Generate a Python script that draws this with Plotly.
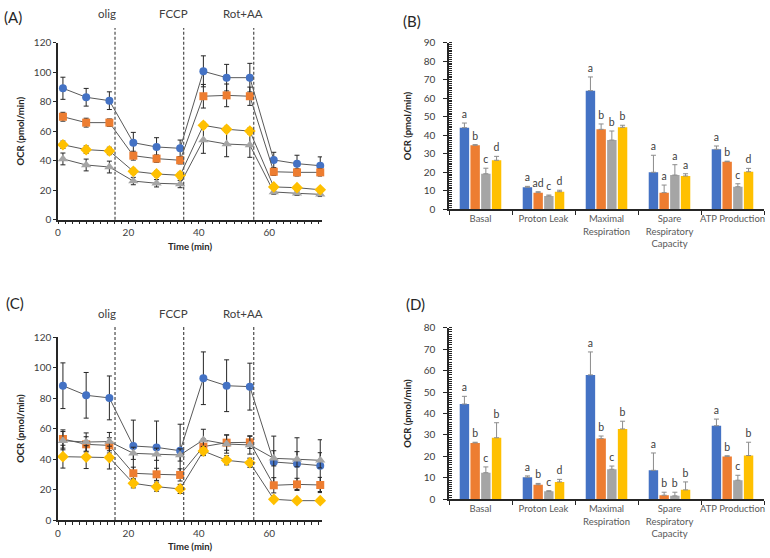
import plotly.graph_objects as go

# ---------------- data ----------------
time_min = [1.4, 8.0, 14.6, 21.4, 28.0, 34.7, 41.3, 47.9, 54.5, 61.3, 67.9, 74.5]
injections = ["olig", "FCCP", "Rot+AA"]
injection_times = [16.2, 35.7, 55.6]
label_times = [13.8, 32.7, 52.6]

series_names = ["S1", "S2", "S3", "S4"]
series_colors = ["#4472C4", "#ED7D31", "#A5A5A5", "#FFC000"]
series_symbols = ["circle", "square", "triangle-up", "diamond"]
series_msize = [8, 8, 9, 9]

# Panel A (OCR time course)
a_blue = [89.1, 83.0, 80.7, 52.2, 49.3, 48.4, 100.6, 96.3, 96.3, 40.5, 38.0, 36.6]
a_orange = [69.8, 65.8, 65.8, 43.4, 41.4, 40.3, 83.7, 84.3, 83.7, 32.5, 32.1, 32.1]
a_gray = [41.2, 37.1, 35.7, 26.2, 24.7, 24.2, 54.0, 51.3, 50.6, 18.8, 17.9, 17.2]
a_yellow = [50.8, 47.5, 46.6, 32.8, 31.0, 30.1, 64.0, 61.3, 60.1, 22.2, 21.7, 20.3]
a_blue_err = [7.5, 6.0, 6.0, 7.0, 6.3, 5.6, 10.5, 9.0, 9.7, 5.2, 5.7, 6.0]
a_orange_err = [3.0, 3.0, 2.5, 3.0, 2.5, 2.5, 8.0, 7.7, 6.2, 2.5, 2.5, 2.5]
a_gray_err = [4.0, 4.0, 4.0, 2.5, 2.5, 2.5, 9.0, 8.6, 8.3, 1.5, 1.5, 1.5]
a_yellow_err = [2.5, 2.5, 2.5, 2.0, 2.0, 2.0, 2.0, 2.0, 2.0, 1.5, 1.5, 1.5]

# Panel C (OCR time course)
c_blue = [88.2, 81.9, 80.2, 48.6, 47.7, 45.5, 93.1, 88.2, 87.6, 38.1, 37.0, 35.7]
c_orange = [53.2, 49.7, 49.0, 30.7, 30.0, 29.6, 48.2, 50.8, 51.0, 22.8, 23.4, 23.0]
c_gray = [52.1, 51.2, 51.5, 43.8, 43.2, 42.7, 52.6, 49.9, 49.3, 40.5, 39.9, 39.2]
c_yellow = [41.6, 41.3, 41.0, 24.1, 21.9, 20.4, 45.3, 39.2, 37.6, 13.6, 12.7, 12.7]
c_blue_err = [15.0, 15.0, 14.4, 17.0, 17.3, 17.4, 17.3, 17.0, 15.4, 17.0, 17.0, 17.0]
c_orange_err = [6.0, 5.0, 5.0, 4.0, 4.0, 4.0, 5.0, 5.0, 4.0, 5.0, 4.0, 5.0]
c_gray_err = [6.0, 6.0, 6.0, 4.0, 4.0, 4.0, 7.0, 6.0, 6.0, 5.0, 5.0, 5.0]
c_yellow_err = [7.5, 7.5, 7.5, 3.0, 3.0, 3.0, 3.0, 3.0, 3.0, 1.0, 1.0, 1.0]

# Bar panels
categories = ["Basal", "Proton Leak", "Maximal<br>Respiration",
              "Spare<br>Respiratory<br>Capacity", "ATP Production"]

b_blue = [44.1, 11.9, 64.1, 20.0, 32.4]
b_orange = [34.6, 9.0, 43.2, 9.0, 25.7]
b_gray = [19.2, 7.2, 37.4, 18.5, 12.2]
b_yellow = [26.5, 9.5, 44.3, 18.0, 20.3]
b_blue_err = [2.5, 0.5, 7.4, 9.2, 1.8]
b_orange_err = [0.3, 0.5, 2.9, 4.1, 0.3]
b_gray_err = [3.0, 0.5, 4.9, 5.6, 1.6]
b_yellow_err = [2.1, 0.8, 1.1, 1.2, 1.8]
b_blue_lbl = ["a", "a", "a", "a", "a"]
b_orange_lbl = ["b", "ad", "b", "a", "b"]
b_gray_lbl = ["c", "c", "b", "a", "c"]
b_yellow_lbl = ["d", "d", "b", "a", "d"]

d_blue = [44.4, 10.3, 58.0, 13.5, 34.3]
d_orange = [26.3, 6.8, 28.3, 1.9, 20.0]
d_gray = [12.4, 3.7, 14.0, 1.6, 8.9]
d_yellow = [28.7, 8.1, 32.8, 4.4, 20.4]
d_blue_err = [3.6, 0.6, 10.7, 8.1, 3.1]
d_orange_err = [0.3, 0.6, 1.2, 1.4, 0.3]
d_gray_err = [2.7, 0.3, 1.5, 1.7, 2.3]
d_yellow_err = [7.0, 1.2, 3.6, 3.7, 6.2]
d_blue_lbl = ["a", "a", "a", "a", "a"]
d_orange_lbl = ["b", "b", "b", "b", "b"]
d_gray_lbl = ["c", "c", "c", "b", "c"]
d_yellow_lbl = ["b", "d", "b", "b", "b"]

# ---------------- figure ----------------
FONT = "Lato"
TXT = "#404040"
fig = go.Figure()


def add_lines(vals_list, errs_list, xa, ya):
    for i, (vals, errs) in enumerate(zip(vals_list, errs_list)):
        fig.add_trace(go.Scatter(
            x=time_min, y=vals, xaxis=xa, yaxis=ya, mode="lines+markers",
            name=series_names[i], showlegend=False,
            line=dict(color="#595959", width=1),
            marker=dict(symbol=series_symbols[i], color=series_colors[i],
                        size=series_msize[i], line=dict(width=0)),
            error_y=dict(type="data", array=errs, color="#262626", thickness=1, width=2.5),
            cliponaxis=False,
        ))


def add_bars(vals_list, errs_list, lbls_list, xa, ya):
    for i, (vals, errs, lbls) in enumerate(zip(vals_list, errs_list, lbls_list)):
        fig.add_trace(go.Bar(
            x=categories, y=vals, xaxis=xa, yaxis=ya, name=series_names[i],
            showlegend=False, offsetgroup=str(i),
            marker=dict(color=series_colors[i], line=dict(width=0)),
            error_y=dict(type="data", symmetric=False, array=errs,
                         arrayminus=[0] * len(errs), color="#8c8c8c",
                         thickness=1, width=2.5),
        ))
        fig.add_trace(go.Bar(
            x=categories, y=errs, base=vals, xaxis=xa, yaxis=ya,
            showlegend=False, offsetgroup=str(i), hoverinfo="skip",
            marker=dict(color="rgba(0,0,0,0)", line=dict(width=0)),
            text=lbls, textposition="outside", constraintext="none",
            textfont=dict(family=FONT, size=10.5, color=TXT),
            cliponaxis=False,
        ))


add_lines([a_blue, a_orange, a_gray, a_yellow],
          [a_blue_err, a_orange_err, a_gray_err, a_yellow_err], "x", "y")
add_bars([b_blue, b_orange, b_gray, b_yellow],
         [b_blue_err, b_orange_err, b_gray_err, b_yellow_err],
         [b_blue_lbl, b_orange_lbl, b_gray_lbl, b_yellow_lbl], "x2", "y2")
add_lines([c_blue, c_orange, c_gray, c_yellow],
          [c_blue_err, c_orange_err, c_gray_err, c_yellow_err], "x3", "y3")
add_bars([d_blue, d_orange, d_gray, d_yellow],
         [d_blue_err, d_orange_err, d_gray_err, d_yellow_err],
         [d_blue_lbl, d_orange_lbl, d_gray_lbl, d_yellow_lbl], "x4", "y4")

W, H = 770, 558


def px_x(p):
    return p / W


def px_y(p):
    return 1 - p / H


tickfont = dict(family=FONT, size=10, color=TXT)
titlefont = dict(family=FONT, size=9.5, color="#262626", weight="bold")

line_x = dict(range=[0, 75], tickvals=[0, 20, 40, 60], showgrid=False, zeroline=False,
              showline=True, linecolor="#262626", linewidth=1.5,
              ticks="outside", ticklen=3, tickcolor="#262626",
              minor=dict(dtick=2, ticks="outside", ticklen=3, tickcolor="#262626"),
              tickfont=tickfont, automargin=False,
              title=dict(text="Time (min)", font=titlefont, standoff=6))
line_y = dict(range=[0, 120], dtick=20, showgrid=False, zeroline=False,
              showline=True, linecolor="#262626", linewidth=1.5,
              ticks="outside", ticklen=3, tickcolor="#262626", tickfont=tickfont,
              automargin=False,
              title=dict(text="OCR (pmol/min)", font=titlefont, standoff=8))
bar_x = dict(type="category", showgrid=False, zeroline=False, showline=True,
             linecolor="#262626", linewidth=1.5, ticks="outside", tickson="boundaries",
             ticklen=4, tickcolor="#262626", tickangle=0, automargin=False,
             tickfont=dict(family=FONT, size=9.5, color="#595959"))


def bar_y(top, dt):
    return dict(range=[0, top], dtick=dt, showgrid=False, zeroline=False,
                showline=True, linecolor="#262626", linewidth=1.5,
                ticks="outside", ticklen=4, tickcolor="#262626", tickfont=tickfont,
                ticklabelstandoff=6, automargin=False,
                minor=dict(dtick=1, ticks="inside", ticklen=3, tickcolor="#262626"),
                title=dict(text="OCR (pmol/min)", font=titlefont, standoff=10))


fig.update_layout(
    width=W, height=H, margin=dict(l=0, r=0, t=0, b=0, autoexpand=False),
    paper_bgcolor="white", plot_bgcolor="white",
    barmode="group", bargap=0.32, bargroupgap=0.12,
    font=dict(family=FONT, color=TXT),
    xaxis=dict(domain=[px_x(58), px_x(322)], anchor="y", **line_x),
    yaxis=dict(domain=[px_y(219.7), px_y(42.7)], anchor="x", **line_y),
    xaxis2=dict(domain=[px_x(449), px_x(764)], anchor="y2", **bar_x),
    yaxis2=dict(domain=[px_y(209.3), px_y(42.7)], anchor="x2", **bar_y(90, 10)),
    xaxis3=dict(domain=[px_x(58), px_x(322)], anchor="y3", **line_x),
    yaxis3=dict(domain=[px_y(520), px_y(337.3)], anchor="x3", **line_y),
    xaxis4=dict(domain=[px_x(449), px_x(764)], anchor="y4", **bar_x),
    yaxis4=dict(domain=[px_y(499.3), px_y(327.7)], anchor="x4", **bar_y(80, 10)),
)

shapes = []
annotations = []
for xa, top_px, bot_px, lab_px in [("x", 28, 219.7, 13), ("x3", 327, 520, 313)]:
    for t_inj, t_lab, name in zip(injection_times, label_times, injections):
        shapes.append(dict(type="line", xref=xa, yref="paper", x0=t_inj, x1=t_inj,
                           y0=px_y(bot_px), y1=px_y(top_px),
                           line=dict(color="#595959", width=1.3, dash="3px,2px")))
        annotations.append(dict(xref=xa, yref="paper", x=t_lab, y=px_y(lab_px),
                                xanchor="center", yanchor="middle",
                                text=name, showarrow=False,
                                font=dict(family=FONT, size=11.5, color=TXT)))

for text, cx, cy in [("(A)", 13, 17), ("(B)", 412, 21), ("(C)", 15, 303), ("(D)", 416, 304)]:
    annotations.append(dict(xref="paper", yref="paper", x=px_x(cx), y=px_y(cy),
                            xanchor="center", yanchor="middle",
                            text=text, showarrow=False,
                            font=dict(family=FONT, size=15, color="#262626")))

fig.update_layout(shapes=shapes, annotations=annotations)

# remove the browser's default 8px body margin so the figure fills the window
fig.write_html("out.html", config={"displayModeBar": False},
               post_script="document.body.style.margin='0';document.body.style.overflow='hidden';")
